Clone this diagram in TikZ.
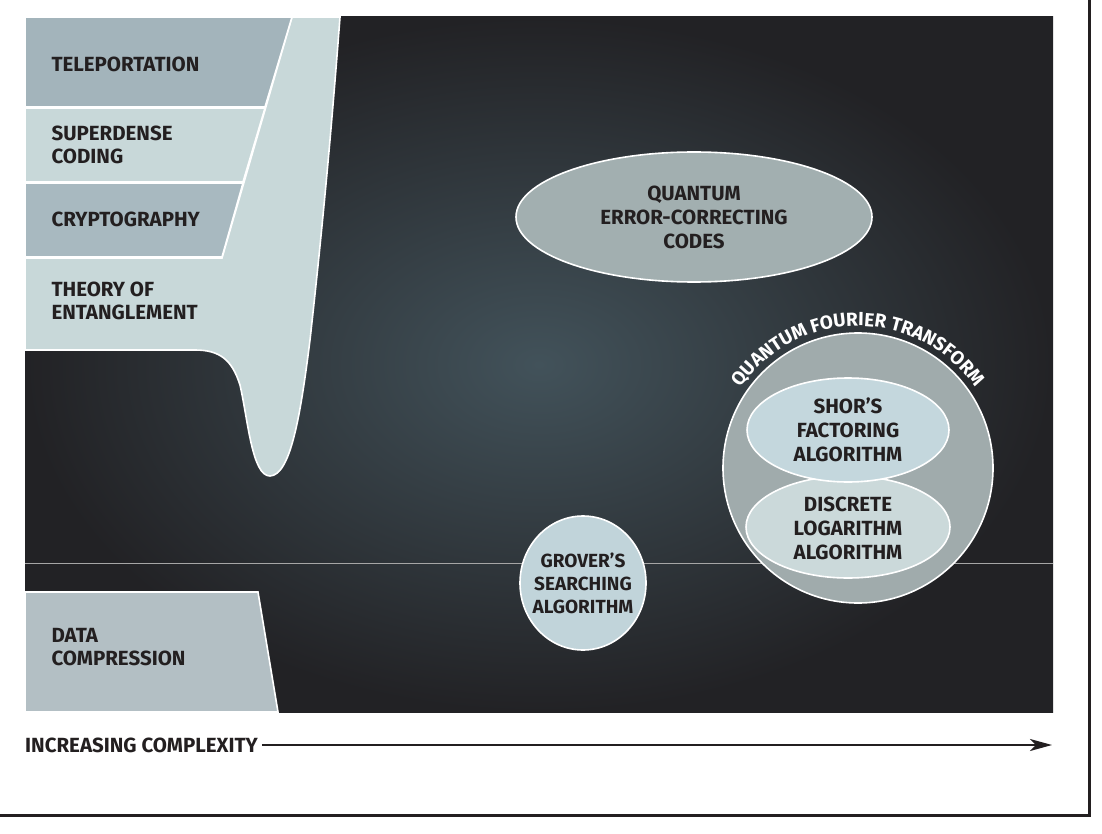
\documentclass[tikz,border=0pt]{standalone}
\usepackage{fontspec}
\setmainfont{Fira Sans}
\usetikzlibrary{decorations.text,arrows.meta}
\definecolor{ink}{HTML}{231F20}
\definecolor{bandA}{HTML}{A3B4BB}
\definecolor{bandB}{HTML}{C8D8D9}
\definecolor{bandC}{HTML}{A8B9C0}
\definecolor{bandD}{HTML}{B3BFC4}
\tikzset{
  lbl/.style={font=\bfseries\fontsize{20.5}{23}\selectfont, text=ink, align=left, anchor=west},
  clbl/.style={font=\bfseries\fontsize{20.5}{24}\selectfont, text=ink, align=center},
  shp/.style={draw=white, line width=1.6pt},
}
\begin{document}
\begin{tikzpicture}[x=1pt,y=1pt]
\useasboundingbox (0,0) rectangle (1102,-834);
\fill[white] (0,0) rectangle (1102,-834);
% dark panel
\shade[inner color={rgb,255:red,66;green,82;blue,90}, outer color={rgb,255:red,34;green,34;blue,37}] (25,-17) rectangle (1053,-712);
\draw[gray!70, line width=0.5pt] (25,-563) -- (1053,-563);
% frame
\draw[ink, line width=3pt] (1089,0) -- (1089,-815) -- (0,-815);
% funnel / entanglement
\path[shp, fill=bandB] (25,-258) -- (222,-258) -- (292,-17) -- (340,-17)
  .. controls (330,-150) and (320,-250) .. (310,-340)
  .. controls (300,-420) and (290,-475) .. (270,-476)
  .. controls (252,-476) and (248,-420) .. (240,-385)
  .. controls (232,-360) and (220,-350) .. (195,-350)
  -- (25,-350) -- cycle;
\path[shp, fill=bandA] (25,-17) -- (292,-17) -- (265,-107) -- (25,-107) -- cycle;
\path[shp, fill=bandB] (25,-108) -- (265,-108) -- (243,-182) -- (25,-182) -- cycle;
\path[shp, fill=bandC] (25,-183) -- (243,-183) -- (222,-257) -- (25,-257) -- cycle;
\path[shp, fill=bandD] (25,-592) -- (258,-592) -- (278,-712) -- (25,-712) -- cycle;
\node[lbl] (tele) at (48,-64) {TELEPORTATION};
\node[lbl] (sdc) at (48,-145) {SUPERDENSE\\CODING};
\node[lbl] (cry) at (48,-219) {CRYPTOGRAPHY};
\node[lbl] (ent) at (48,-301) {THEORY OF\\ENTANGLEMENT};
\node[lbl] (dc) at (48,-647) {DATA\\COMPRESSION};
% QECC
\draw[shp, fill={rgb,255:red,162;green,175;blue,176}] (694,-217) ellipse [x radius=178, y radius=65];
\node[clbl] (qecc) at (694,-217) {QUANTUM\\ERROR-CORRECTING\\CODES};
% QFT circle
\draw[shp, fill={rgb,255:red,160;green,171;blue,172}] (858,-468) circle [radius=135];
\draw[shp, fill={rgb,255:red,203;green,217;blue,218}] (848,-527) ellipse [x radius=102, y radius=51];
\draw[shp, fill={rgb,255:red,196;green,215;blue,221}] (848,-430) ellipse [x radius=101, y radius=52];
\node[clbl] (shor) at (848,-430) {SHOR'S\\FACTORING\\ALGORITHM};
\node[clbl] (dla) at (848,-528) {DISCRETE\\LOGARITHM\\ALGORITHM};
\path[decorate, decoration={text along path, text align=center,
  text={|\color{white}\bfseries\fontsize{19}{19}\selectfont|QUANTUM FOURIER TRANSFORM}}]
  (858,-468) ++(165:142) arc[start angle=165, end angle=15, radius=142];
% Grover
\draw[shp, fill={rgb,255:red,193;green,212;blue,218}] (583,-583) ellipse [x radius=63, y radius=67];
\node[font=\bfseries\fontsize{19}{23}\selectfont, text=ink, align=center] (grover) at (583,-583) {GROVER'S\\SEARCHING\\ALGORITHM};
% axis
\node[font=\bfseries\fontsize{20.5}{23}\selectfont, text=ink, anchor=west, inner sep=0pt] (ax) at (25,-745) {INCREASING COMPLEXITY};
\coordinate (axend) at (1052,-745);
\draw[ink, line width=2pt, -{Stealth[length=22pt,width=12pt,inset=6pt]}] ([xshift=4pt]ax.east) -- (axend);
\end{tikzpicture}
\end{document}
